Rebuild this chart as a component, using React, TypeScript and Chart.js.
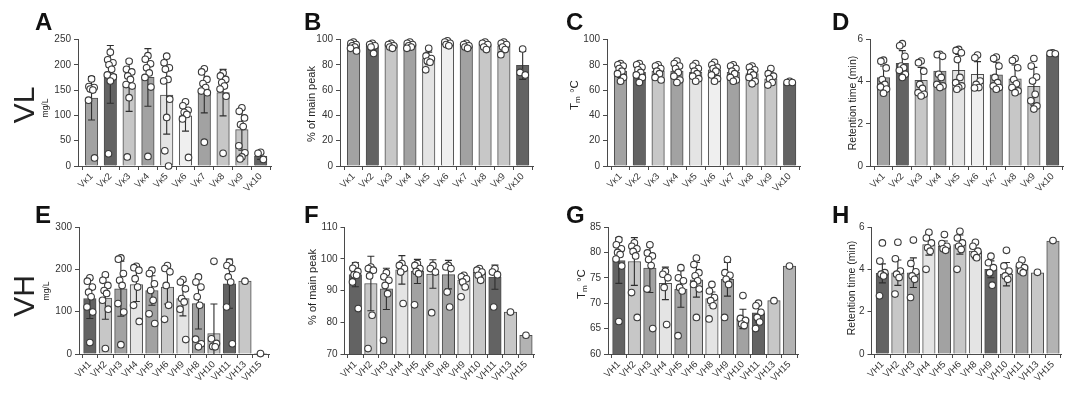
import React, { useEffect, useRef } from 'react';
import { Chart, registerables } from 'chart.js';

Chart.register(...registerables);

const FONT = '"Liberation Sans", Arial, Helvetica, sans-serif';
const AXIS = '#4a4a4a';
const TEXT = '#333333';

// gray shades
const DK = '#636363';
const MD = '#a2a2a2';
const LT = '#c7c7c7';
const VLT = '#e4e4e4';
const XLT = '#efefef';
const ML = '#b3b3b3';

// ---------- categories ----------
const vkLabels = ['Vκ1', 'Vκ2', 'Vκ3', 'Vκ4', 'Vκ5', 'Vκ6', 'Vκ7', 'Vκ8', 'Vκ9', 'Vκ10'];
const vhLabelsE = ['VH1', 'VH2', 'VH3', 'VH4', 'VH5', 'VH6', 'VH9', 'VH8', 'VH10', 'VH11', 'VH13', 'VH15'];
const vhLabels = ['VH1', 'VH2', 'VH3', 'VH4', 'VH5', 'VH6', 'VH8', 'VH9', 'VH10', 'VH11', 'VH13', 'VH15'];

// ---------- panel A: yield mg/L (VL) ----------
const aMeans = [134, 181, 159, 175, 140, 99, 148, 145, 72, 19];
const aSds = [43, 57, 51, 57, 77, 30, 43, 46, 41, 6];
const aPoints = [
  [172, 157, 155, 152, 150, 130, 16],
  [225, 210, 204, 200, 191, 180, 176, 168, 24],
  [207, 191, 186, 178, 171, 161, 158, 135, 18],
  [218, 211, 202, 194, 184, 175, 156, 19],
  [217, 204, 194, 191, 171, 168, 132, 96, 30, 0],
  [127, 119, 110, 106, 102, 93, 17],
  [192, 186, 171, 163, 155, 148, 145, 47],
  [184, 178, 171, 165, 158, 152, 138, 25],
  [115, 108, 95, 82, 78, 40, 26, 18, 14],
  [27, 25, 13],
];

// ---------- panel B: % of main peak (VL) ----------
const bMeans = [96, 95, 96, 96, 85, 97, 95, 96, 95, 79.5];
const bSds = [2, 3, 1.5, 2, 5, 1.5, 1.5, 2, 3, 11];
const bPoints = [
  [98, 97, 96, 95, 94, 93, 91],
  [97, 96, 95, 94, 89],
  [97, 96, 95, 94, 93],
  [98, 97, 96, 95, 94, 93],
  [93, 87, 85, 83, 82, 76],
  [99, 98, 97, 96, 95],
  [97, 96, 95, 94, 93],
  [98, 97, 96, 94, 92],
  [98, 97, 96, 94, 92, 88],
  [92.5, 74, 72],
];

// ---------- panel C: Tm (VL) ----------
const cMeans = [75, 74, 75, 75, 74, 76, 74, 73, 69, 65.5];
const cSds = [5, 5, 4, 6, 5, 5, 5, 5, 4.5, 1];
const cPoints = [
  [81, 80, 79, 77, 75, 73, 70, 67],
  [81, 80, 78, 76, 74, 72, 70, 66],
  [80, 79, 77, 75, 73, 70, 68],
  [83, 81, 79, 77, 74, 71, 68, 66],
  [81, 79, 77, 75, 73, 71, 69, 67],
  [82, 80, 78, 77, 75, 72, 69, 67],
  [80, 79, 77, 75, 73, 70, 68, 67],
  [79, 78, 76, 74, 72, 70, 67, 65],
  [77, 73, 71, 69, 66, 64],
  [67, 66, 66],
];

// ---------- panel D: retention time (VL) ----------
const dMeans = [4.19, 4.87, 4.06, 4.5, 4.54, 4.35, 4.32, 4.14, 3.78, 5.3];
const dSds = [0.55, 0.6, 0.62, 0.65, 0.75, 0.6, 0.6, 0.65, 0.9, 0.05];
const dPoints = [
  [5.02, 4.97, 4.65, 4.1, 3.87, 3.75, 3.65, 3.45],
  [5.8, 5.7, 5.2, 4.74, 4.66, 4.54, 4.35, 4.2],
  [4.98, 4.9, 4.5, 3.87, 3.68, 3.48, 3.4, 3.32],
  [5.3, 5.28, 5.2, 4.35, 4.2, 3.87, 3.8, 3.72],
  [5.53, 5.48, 5.37, 5.05, 4.2, 3.95, 3.8, 3.72, 3.64],
  [5.26, 5.13, 4.03, 3.87, 3.72, 3.7],
  [5.17, 5.1, 4.74, 4.2, 3.95, 3.8, 3.72, 3.64],
  [5.1, 5.0, 4.66, 4.1, 3.9, 3.72, 3.56, 3.48],
  [5.1, 4.74, 4.22, 4.03, 3.4, 3.09, 2.85, 2.7],
  [5.37, 5.34, 5.32],
];

// ---------- panel E: yield mg/L (VH) ----------
const eMeans = [131, 132, 154, 164, 150, 158, 131, 119, 48, 166, 172, 1];
const eSds = [47, 50, 65, 40, 35, 40, 41, 60, 70, 58, 0, 0];
const ePoints = [
  [180, 172, 158, 146, 135, 111, 99, 27],
  [187, 174, 162, 150, 143, 127, 106, 13],
  [227, 224, 190, 174, 162, 119, 99, 22],
  [207, 204, 198, 178, 158, 115, 77],
  [198, 190, 166, 150, 127, 95, 72],
  [209, 202, 194, 162, 115, 82],
  [176, 170, 154, 131, 123, 106, 34],
  [182, 170, 158, 135, 115, 35, 24, 17],
  [219, 36, 25, 18, 17],
  [217, 209, 202, 182, 170, 111, 24],
  [172],
  [1],
];

// ---------- panel F: % of main peak (VH) ----------
const fMeans = [95, 92.2, 90.5, 96.5, 96, 95.2, 95, 93.3, 95.8, 94.2, 83.2, 75.9];
const fSds = [3.8, 8.6, 6.5, 4.5, 3.8, 4.5, 4.5, 1.8, 1.3, 3.8, 0, 0];
const fPoints = [
  [97.9, 97, 96, 95, 94.8, 92.7, 84.3],
  [97.4, 96.9, 96.4, 94.6, 82.2, 71.7],
  [95.6, 94.3, 93.2, 91.6, 89, 74.3],
  [98.5, 97.9, 96.9, 95.8, 85.9],
  [98.5, 97.9, 96.9, 96.0, 95.3, 85.5],
  [97.9, 96.9, 95.8, 83],
  [97.9, 97.4, 96.9, 89.5, 84.8],
  [94.8, 94.3, 93.7, 92.7, 91.1, 88],
  [96.9, 96.4, 95.8, 94.8, 93.2],
  [96.9, 95.8, 95, 84.8],
  [83.2],
  [75.9],
];

// ---------- panel G: Tm (VH) ----------
const gMeans = [78.4, 78.2, 76.9, 73.9, 72.8, 74.6, 70.9, 74.7, 66.9, 68.1, 70.5, 77.3];
const gSds = [4.5, 4.7, 4.8, 3.2, 3.6, 3.4, 1.3, 3.3, 1.9, 1.8, 0, 0];
const gPoints = [
  [82.5, 81.5, 80.7, 80, 79.6, 78.7, 77.3, 66.4],
  [81.9, 81.2, 80.7, 80.2, 79.3, 72.1, 67.2],
  [81.5, 79.9, 79.3, 78.6, 77.4, 72.8, 65],
  [76.3, 75.7, 75, 73.1, 65.8],
  [77, 75, 74.4, 73.1, 72.4, 63.6],
  [78.9, 77.6, 76, 75.4, 74.4, 73.7, 72.8, 67.2],
  [73.7, 72.4, 71.1, 70.5, 69.5, 66.9],
  [78.6, 76, 75.5, 74.7, 73.7, 67.2],
  [71.5, 67, 66.6, 65.9, 65.6],
  [70, 69.5, 68.2, 67.2, 66.3, 65],
  [70.5],
  [77.3],
];

// ---------- panel H: retention time (VH) ----------
const hMeans = [3.81, 3.84, 3.84, 5.17, 5.09, 5.17, 4.86, 4.0, 3.77, 4.16, 3.84, 5.33];
const hSds = [0.45, 0.6, 0.7, 0.5, 0.25, 0.45, 0.36, 0.4, 0.55, 0.25, 0, 0];
const hPoints = [
  [5.25, 4.39, 3.84, 3.77, 3.69, 2.75],
  [5.28, 4.5, 3.92, 3.77, 3.61, 2.83],
  [5.38, 4.28, 3.88, 3.69, 3.53, 2.67],
  [5.75, 5.48, 5.25, 5.02, 4.86, 4.0],
  [5.64, 5.22, 5.09, 4.97, 4.9],
  [5.8, 5.48, 5.25, 5.09, 4.94, 4.0],
  [5.28, 5.09, 4.86, 4.7, 4.55],
  [4.62, 4.31, 4.08, 3.84, 3.25],
  [4.9, 4.16, 3.92, 3.69, 3.53],
  [4.44, 4.19, 4.08, 3.92, 3.84],
  [3.86],
  [5.36],
];

// ---------- bar colours (style) ----------
const topColors = [MD, DK, LT, MD, VLT, XLT, MD, LT, LT, DK];
const eColors = [DK, LT, MD, VLT, MD, LT, VLT, MD, LT, DK, LT, LT];
const fColors = [DK, LT, MD, VLT, MD, LT, MD, VLT, LT, DK, LT, ML];
const gColors = [DK, LT, MD, VLT, MD, LT, VLT, MD, MD, DK, LT, ML];
const hColors = [DK, LT, MD, VLT, MD, LT, VLT, DK, LT, MD, LT, ML];

// horizontal spread pattern of the dots (fraction of a category)
const JITTER = [0, -0.14, 0.14, -0.07, 0.07, -0.16, 0.16, 0, -0.1, 0.1];

type Panel = {
  labels: string[];
  means: number[];
  sds: number[];
  points: number[][];
  colors: string[];
  yMin: number;
  yMax: number;
  yStep: number;
  cx: number;
  cy: number;
  cw: number;
  ch: number;
  l: number;
  r: number;
  t: number;
  b: number;
  xMin: number;
  xMax: number;
  jit: number;
};

const TOP = { cy: 0, ch: 197, t: 39.5, b: 166, xMin: -0.72, xMax: 9.55, jit: 1 };
const BOT = { cy: 197, ch: 197, t: 227, b: 354, xMin: -0.7, xMax: 11.55, jit: 1.15 };

const panels: Panel[] = [
  { ...TOP, labels: vkLabels, means: aMeans, sds: aSds, points: aPoints, colors: topColors, yMin: 0, yMax: 250, yStep: 50, cx: 0, cw: 278, l: 78, r: 271 },
  { ...TOP, labels: vkLabels, means: bMeans, sds: bSds, points: bPoints, colors: topColors, yMin: 0, yMax: 100, yStep: 20, cx: 270, cw: 278, l: 340, r: 533 },
  { ...TOP, labels: vkLabels, means: cMeans, sds: cSds, points: cPoints, colors: topColors, yMin: 0, yMax: 100, yStep: 20, cx: 540, cw: 278, l: 607, r: 800 },
  { ...TOP, labels: vkLabels, means: dMeans, sds: dSds, points: dPoints, colors: topColors, yMin: 0, yMax: 6, yStep: 2, cx: 810, cw: 270, l: 870, r: 1063 },
  { ...BOT, labels: vhLabelsE, means: eMeans, sds: eSds, points: ePoints, colors: eColors, yMin: 0, yMax: 300, yStep: 100, cx: 0, cw: 278, l: 79, r: 269 },
  { ...BOT, labels: vhLabels, means: fMeans, sds: fSds, points: fPoints, colors: fColors, yMin: 70, yMax: 110, yStep: 10, cx: 270, cw: 278, l: 344.5, r: 534.5 },
  { ...BOT, labels: vhLabels, means: gMeans, sds: gSds, points: gPoints, colors: gColors, yMin: 60, yMax: 85, yStep: 5, cx: 540, cw: 278, l: 608, r: 798 },
  { ...BOT, labels: vhLabels, means: hMeans, sds: hSds, points: hPoints, colors: hColors, yMin: 0, yMax: 6, yStep: 2, cx: 810, cw: 270, l: 871.5, r: 1061.5 },
];

const errorBarPlugin = {
  id: 'errorBars',
  afterDatasetDraw(chart: any, args: any) {
    const ds: any = chart.data.datasets[args.index];
    if (!ds || !ds.errors) return;
    const meta = chart.getDatasetMeta(args.index);
    const ys = chart.scales.y;
    const ctx = chart.ctx;
    const cap = 3.5;
    ctx.save();
    ctx.strokeStyle = '#2e2e2e';
    ctx.lineWidth = 1.1;
    meta.data.forEach((bar: any, i: number) => {
      const sd = ds.errors[i];
      if (!sd) return;
      const m = ds.means[i];
      const x = bar.x;
      const lo = Math.max(m - sd, ys.min);
      const yT = ys.getPixelForValue(m + sd);
      const yB = ys.getPixelForValue(lo);
      ctx.beginPath();
      ctx.moveTo(x, yT);
      ctx.lineTo(x, yB);
      ctx.moveTo(x - cap, yT);
      ctx.lineTo(x + cap, yT);
      if (m - sd > ys.min) {
        ctx.moveTo(x - cap, yB);
        ctx.lineTo(x + cap, yB);
      }
      ctx.stroke();
    });
    ctx.restore();
  },
};

function PanelChart({ p }: { p: Panel }) {
  const ref = useRef<HTMLCanvasElement | null>(null);
  useEffect(() => {
    if (!ref.current) return;
    const yWidth = p.l - p.cx;
    const xHeight = p.cy + p.ch - p.b;
    const scatterData: { x: number; y: number }[] = [];
    p.points.forEach((vals, i) => {
      vals.forEach((v, j) => {
        scatterData.push({ x: i + JITTER[j % JITTER.length] * p.jit, y: v });
      });
    });
    const chart = new Chart(ref.current, {
      type: 'bar',
      data: {
        datasets: [
          {
            type: 'scatter',
            data: scatterData,
            order: 0,
            pointRadius: 3.3,
            pointBorderWidth: 1.1,
            pointBorderColor: '#3a3a3a',
            pointBackgroundColor: '#ffffff',
            clip: false,
          } as any,
          {
            type: 'bar',
            data: p.means.map((m, i) => ({ x: i, y: m })),
            order: 1,
            backgroundColor: p.colors,
            borderColor: '#4d4d4d',
            borderWidth: 1,
            barThickness: 12.5,
            errors: p.sds,
            means: p.means,
          } as any,
        ],
      },
      options: {
        responsive: false,
        animation: false,
        events: [],
        layout: {
          padding: { left: 0, top: p.t - p.cy, right: p.cx + p.cw - p.r, bottom: 0 },
        },
        plugins: {
          legend: { display: false },
          tooltip: { enabled: false },
        },
        scales: {
          x: {
            type: 'linear',
            min: p.xMin,
            max: p.xMax,
            offset: false,
            afterBuildTicks: (s: any) => {
              s.ticks = p.labels.map((_, i) => ({ value: i }));
            },
            afterFit: (s: any) => {
              s.height = xHeight;
            },
            grid: {
              display: true,
              drawOnChartArea: false,
              drawTicks: true,
              tickLength: 4,
              color: AXIS,
              lineWidth: 1,
            },
            border: { display: true, color: AXIS, width: 1 },
            ticks: {
              autoSkip: false,
              maxRotation: 45,
              minRotation: 45,
              padding: 1,
              color: TEXT,
              font: { family: FONT, size: 9.5 },
              callback: (_v: any, idx: number) => p.labels[idx] ?? '',
            },
          },
          y: {
            min: p.yMin,
            max: p.yMax,
            afterFit: (s: any) => {
              s.width = yWidth;
            },
            grid: {
              display: true,
              drawOnChartArea: false,
              drawTicks: true,
              tickLength: 4,
              color: AXIS,
              lineWidth: 1,
            },
            border: { display: true, color: AXIS, width: 1 },
            ticks: {
              stepSize: p.yStep,
              padding: 3,
              color: TEXT,
              font: { family: FONT, size: 10 },
            },
          },
        },
      } as any,
      plugins: [errorBarPlugin],
    });
    return () => chart.destroy();
  }, [p]);
  return (
    <canvas
      ref={ref}
      width={p.cw}
      height={p.ch}
      style={{ position: 'absolute', left: p.cx, top: p.cy, width: p.cw, height: p.ch }}
    />
  );
}

const letters = [
  { t: 'A', x: 35, y: 9.5 },
  { t: 'B', x: 304, y: 9.5 },
  { t: 'C', x: 566, y: 9.5 },
  { t: 'D', x: 832, y: 9.5 },
  { t: 'E', x: 35, y: 203 },
  { t: 'F', x: 304, y: 203 },
  { t: 'G', x: 566, y: 203 },
  { t: 'H', x: 832, y: 203 },
];

function VText({ x, y, size, children, weight }: { x: number; y: number; size: number; children: React.ReactNode; weight?: number }) {
  return (
    <div
      style={{
        position: 'absolute',
        left: x,
        top: y,
        transform: 'translate(-50%, -50%) rotate(-90deg)',
        fontSize: size,
        lineHeight: 1,
        whiteSpace: 'nowrap',
        color: '#222',
        fontWeight: weight ?? 400,
      }}
    >
      {children}
    </div>
  );
}

const Tm = () => (
  <span>
    T<span style={{ fontSize: '0.7em', position: 'relative', top: '0.3em' }}>m</span> °C
  </span>
);

export default function App() {
  return (
    <div
      style={{
        position: 'fixed',
        left: 0,
        top: 0,
        width: 1080,
        height: 394,
        background: '#ffffff',
        overflow: 'hidden',
        fontFamily: FONT,
      }}
    >
      {panels.map((p, i) => (
        <PanelChart key={i} p={p} />
      ))}
      {letters.map((l) => (
        <div
          key={l.t}
          style={{
            position: 'absolute',
            left: l.x,
            top: l.y,
            fontSize: 24,
            fontWeight: 700,
            lineHeight: 1,
            color: '#111',
          }}
        >
          {l.t}
        </div>
      ))}
      <VText x={24} y={105} size={30}>VL</VText>
      <VText x={24} y={296} size={30}>VH</VText>
      <VText x={45} y={108} size={8.5}>mg/L</VText>
      <VText x={45.5} y={291} size={8.5}>mg/L</VText>
      <VText x={310.5} y={104} size={11}>% of main peak</VText>
      <VText x={312} y={287} size={11}>% of main peak</VText>
      <VText x={575} y={95} size={11.5}><Tm /></VText>
      <VText x={582} y={284} size={11.5}><Tm /></VText>
      <VText x={852} y={103} size={10.5}>Retention time (min)</VText>
      <VText x={851} y={288} size={10.5}>Retention time (min)</VText>
    </div>
  );
}
